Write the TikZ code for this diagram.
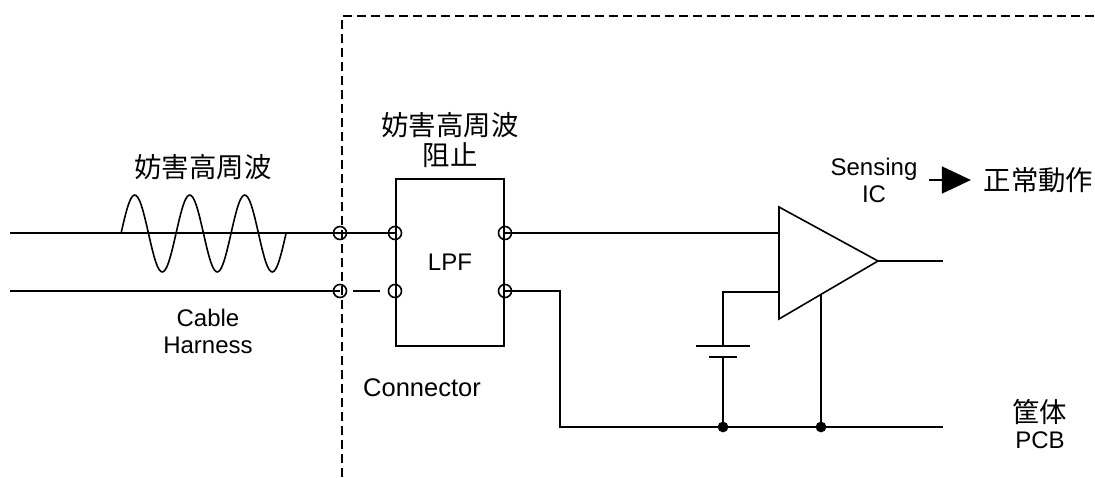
\documentclass[tikz,border=0pt]{standalone}
\usepackage{fontspec}
\setmainfont{Liberation Sans}
\newfontfamily\cjk{Noto Sans CJK JP}
\usetikzlibrary{arrows.meta}
\tikzset{
  port/.style={draw, circle, inner sep=0pt, minimum width=11pt, minimum height=13pt},
  dot/.style={draw, circle, fill, inner sep=0pt, minimum size=9pt},
  txt/.style={inner sep=0pt, align=center, font=\fontsize{24}{27}\selectfont},
  jp/.style={inner sep=0pt, align=center, font=\fontsize{27.4}{30}\selectfont\cjk}
}
\begin{document}
\begin{tikzpicture}[x=1pt, y=-1pt, line width=1.6pt]
    \useasboundingbox (0,0) rectangle (1095,477);
    \node[draw, minimum width=108pt, minimum height=167pt, txt] (lpf) at (450,262.5) {LPF};
    \draw[dashed, dash pattern=on 9pt off 5pt] (342,477) -- (342,16) -- (1095,16);
    \node[port] (caba) at (340,233) {};
    \node[port] (cabb) at (340,291) {};
    \node[port] (lpfa) at (395,233) {};
    \node[port] (lpfb) at (395,291) {};
    \node[port] (outa) at (505,233) {};
    \node[port] (outb) at (505,291) {};
    \coordinate (ina) at (10,233);
    \coordinate (inb) at (10,291);
    \coordinate (gapa) at (353,291);
    \coordinate (gapb) at (380,291);
    \draw (ina) -- (caba.center) -- (lpfa.center);
    \draw (inb) -- (cabb.center);
    \draw (gapa) -- (gapb);
    % noise on the upper wire
    \draw[domain=0:165, samples=100, smooth] plot ({121+\x}, {233.5-38.5*sin(\x/55*360)});
    % amplifier
    \coordinate (amptop) at (779,207);
    \coordinate (ampbot) at (779,319);
    \coordinate (amptip) at (878,261);
    \draw (amptop) -- (amptip) -- (ampbot) -- cycle;
    \coordinate (ampend) at (943,261);
    \draw (amptip) -- (ampend);
    \draw (outa.center) -- (amptop |- outa);
    \node[dot] (gnda) at (723,427) {};
    \node[dot] (gndb) at (821,427) {};
    \coordinate (gndend) at (943,427);
    \draw (outb.center) -| (560,427) -- (gnda) -- (gndb) -- (gndend);
    \draw (gndb) -- (821,294.5);
    % battery
    \coordinate (batlong) at (723,346);
    \coordinate (batshort) at (723,357);
    \draw (batlong) ++(-27,0) -- ++(54,0);
    \draw (batshort) ++(-14,0) -- ++(28,0);
    \draw (ampbot |- 0,292) -- (723,292) -- (batlong);
    \draw (batshort) -- (gnda);
    % labels
    \node[jp] (noise) at (203,167) {妨害高周波};
    \node[jp] (block) at (450,140) {妨害高周波\\阻止};
    \node[txt] (cable) at (208,331.5) {Cable\\Harness};
    \node[txt, font=\fontsize{25.5}{27}\selectfont] (conn) at (422,388) {Connector};
    \node[txt] (sense) at (874,180) {Sensing\\IC};
    \node[jp] (normal) at (1038.5,180) {正常動作};
    \draw[-{Triangle[length=29pt, width=27pt]}, shorten <=11pt, shorten >=12pt] (sense.east) -- (normal.west);
    \node[jp] (pcbjp) at (1039.5,412) {筐体};
    \node[txt] (pcb) at (1040,440) {PCB};
  \end{tikzpicture}
\end{document}
